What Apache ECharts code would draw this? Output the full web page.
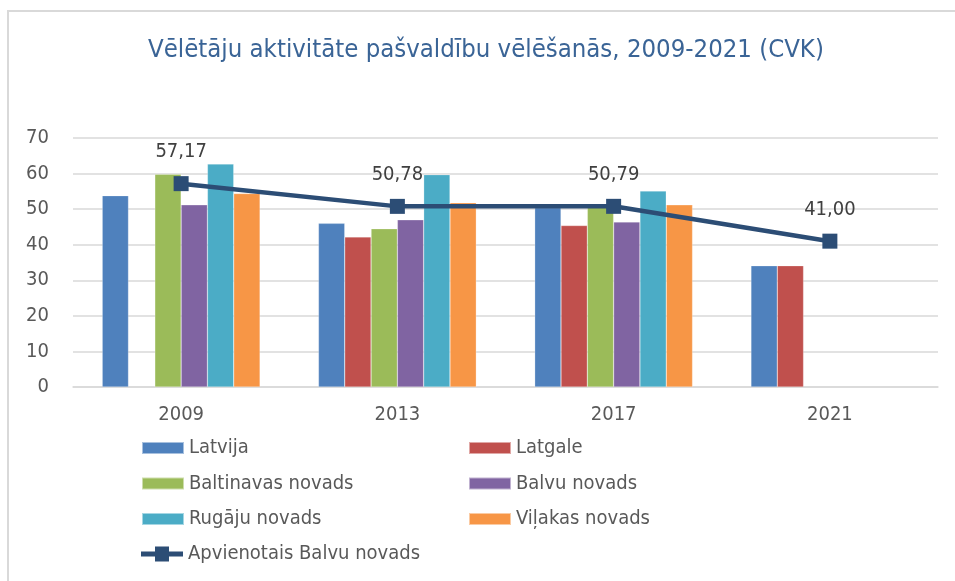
<html>
<head>
    <meta charset="UTF-8">
    <title>Vēlētāju aktivitāte</title>
    <script src="https://cdn.jsdelivr.net/npm/echarts@6/dist/echarts.min.js"></script>
    <style>
        body { margin: 0; padding: 0; background: #fff; overflow: hidden; }
        #echart { width: 955px; height: 581px; }
    </style>
</head>
<body>
<div id="echart"></div>
<script>
    const years = ['2009', '2013', '2017', '2021'];
    const latvija = [53.8, 46.0, 50.4, 34.1];
    const latgale = [null, 42.2, 45.4, 34.1];
    const baltinavas = [59.8, 44.5, 50.9, null];
    const balvu = [51.2, 47.0, 46.4, null];
    const rugaju = [62.7, 59.7, 55.1, null];
    const vilakas = [54.4, 51.8, 51.2, null];
    const apvienotais = [57.17, 50.78, 50.79, 41.00];

    const FONT = '"Liberation Sans Narrow", "DejaVu Sans Condensed", sans-serif';
    const TXT = '#595959';
    const legendText = { fontFamily: FONT, fontSize: 20, color: TXT, lineHeight: 20, padding: [0, 0, 0, 0] };

    function bar(name, data, color) {
        return {
            name: name,
            type: 'bar',
            data: data,
            barGap: 0,
            barCategoryGap: '27%',
            itemStyle: { color: color, borderColor: 'rgba(255,255,255,0.5)', borderWidth: 0.5 }
        };
    }

    const ec = echarts.init(document.getElementById('echart'));
    ec.setOption({
        animation: false,
        textStyle: { fontFamily: FONT },
        title: {
            text: 'Vēlētāju aktivitāte pašvaldību vēlēšanās, 2009-2021 (CVK)',
            left: 143,
            top: 32,
            textStyle: { fontFamily: FONT, fontSize: 25.5, fontWeight: 'normal', color: '#3A6496' }
        },
        // chart frame: only top and left edges are visible in the original
        graphic: [{
            type: 'polyline',
            shape: { points: [[8, 600], [8, 11], [1200, 11]] },
            style: { fill: null, stroke: '#d9d9d9', lineWidth: 2 },
            silent: true
        }],
        legend: [{
            orient: 'vertical',
            left: 136,
            top: 433,
            icon: 'rect',
            itemWidth: 42,
            itemHeight: 12,
            itemGap: 15.5,
            textStyle: legendText,
            data: ['Latvija', 'Baltinavas novads', 'Rugāju novads']
        }, {
            orient: 'vertical',
            left: 463,
            top: 433,
            icon: 'rect',
            itemWidth: 42,
            itemHeight: 12,
            itemGap: 15.5,
            textStyle: legendText,
            data: ['Latgale', 'Balvu novads', 'Viļakas novads']
        }, {
            left: 136,
            top: 539,
            icon: 'path://M0,5 H14 V0 H28 V5 H42 V10 H28 V15 H14 V10 H0 Z',
            itemWidth: 42,
            itemHeight: 15,
            textStyle: legendText,
            data: ['Apvienotais Balvu novads']
        }],
        grid: { left: 73, right: 17, top: 138, bottom: 194, containLabel: false },
        xAxis: {
            type: 'category',
            data: years,
            axisLine: { lineStyle: { color: '#d9d9d9', width: 1.5 } },
            axisTick: { show: false },
            axisLabel: { color: TXT, fontSize: 20, margin: 18, fontFamily: FONT }
        },
        yAxis: {
            type: 'value',
            min: 0,
            max: 70,
            interval: 10,
            axisLine: { show: false },
            axisTick: { show: false },
            axisLabel: { color: TXT, fontSize: 20, margin: 24, fontFamily: FONT },
            splitLine: { lineStyle: { color: '#d9d9d9', width: 1.5 } }
        },
        series: [
            bar('Latvija', latvija, '#4F81BD'),
            bar('Latgale', latgale, '#C0504D'),
            bar('Baltinavas novads', baltinavas, '#9BBB59'),
            bar('Balvu novads', balvu, '#8064A2'),
            bar('Rugāju novads', rugaju, '#4BACC6'),
            bar('Viļakas novads', vilakas, '#F79646'),
            {
                name: 'Apvienotais Balvu novads',
                type: 'line',
                data: apvienotais,
                symbol: 'rect',
                symbolSize: 15,
                lineStyle: { color: '#2C4D75', width: 4.5 },
                itemStyle: { color: '#2C4D75' },
                label: {
                    show: true,
                    position: 'top',
                    distance: 14,
                    color: '#404040',
                    fontSize: 20,
                    fontFamily: FONT,
                    formatter: p => p.value.toFixed(2).replace('.', ',')
                },
                z: 5
            }
        ]
    });
</script>
</body>
</html>
